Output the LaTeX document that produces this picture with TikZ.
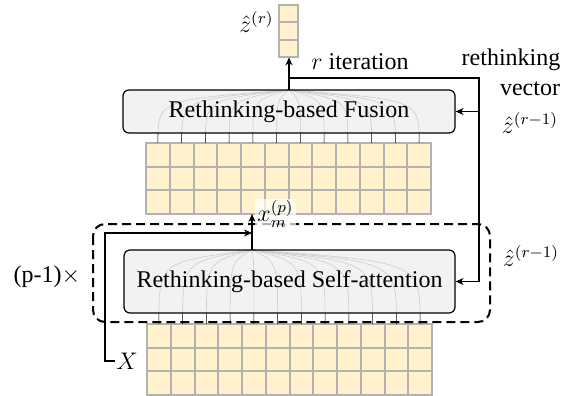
\documentclass[tikz,border=0pt]{standalone}
\usepackage{fontspec}
\setmainfont{Liberation Serif}
\usetikzlibrary{arrows.meta, positioning, calc}
\definecolor{cellfill}{RGB}{255,242,204}
\definecolor{cellline}{RGB}{178,178,178}
\definecolor{boxfill}{RGB}{240,240,240}
\tikzset{
  cell/.style={draw=cellline, fill=cellfill, line width=1pt},
  fan/.style={line width=0.3pt},
  block/.style={draw, line width=0.6pt, rounded corners=3pt, fill=boxfill, fill opacity=0.85, text opacity=1, inner sep=0pt},
  loopbox/.style={draw, line width=1pt, dash pattern=on 4.5pt off 2.5pt, rounded corners=6pt},
  link/.style={line width=0.6pt},
  lbl/.style={inner sep=0.5pt}
}

\begin{document}
\begin{tikzpicture}[x=0.5pt, y=-0.5pt, font=\fontsize{12}{14}\selectfont, >={Stealth[length=4pt,width=3.5pt]}]
\useasboundingbox (0,0) rectangle (587,395);

\foreach \j in {0,1,2}
  \draw[cell] (279,5+17.33*\j) rectangle ++(19,17.33);
\node[minimum width=9.5pt, minimum height=26pt, inner sep=0pt] (zvec) at (288.5,31) {};
\node[lbl, anchor=east] (zlab) at (275,22) {$\hat{z}^{(r)}$};

\foreach \i in {0,...,11}
  \foreach \j in {0,1,2}
    \draw[cell] (146+23.75*\i,143+23.67*\j) rectangle ++(23.75,23.67);

\coordinate (fuse) at (289,90);
\foreach \i in {0,...,11}
  \draw[fan] (157.9+23.75*\i,143) .. controls (157.9+23.75*\i,100) .. (fuse);
\node[block, minimum width=166pt, minimum height=21.5pt] (fusion) at (289,111.5) {Rethinking-based Fusion};

\foreach \i in {0,...,11}
  \foreach \j in {0,1,2}
    \draw[cell] (147+23.75*\i,324+23.67*\j) rectangle ++(23.75,23.67);

\coordinate (att) at (252,250);
\foreach \i in {0,...,11}
  \draw[fan] (158.9+23.75*\i,324) .. controls (158.9+23.75*\i,262) .. (att);
\node[block, minimum width=165.5pt, minimum height=31.5pt] (sa) at (289.5,281.5) {Rethinking-based Self-attention};
\draw[loopbox] (93,224) rectangle (490,322);

\draw[link, ->] (fuse) -- (fuse |- zvec.south);
\coordinate (rtop) at (479,78);
\draw[link, ->] (fuse |- rtop) -- (rtop) -- (rtop |- sa.east) -- (sa.east);
\draw[link, ->] (rtop |- fusion.east) -- (fusion.east);

\coordinate (xin) at (252,214);
\draw[link, ->] (att) -- (xin);
\node[anchor=west, fill=white, fill opacity=0.7, text opacity=1, inner sep=1pt] (xm) at (255,214) {$x_m^{(p)}$};

\node[lbl, anchor=west] (X) at (115,361) {$X$};
\coordinate (lp) at (105,233);
\draw[link, ->] (X.west) -| (lp) -- (att |- lp);

\node[lbl] (iter) at (360,62) {$r$ iteration};
\node[lbl] (rethink) at (511,60) {rethinking};
\node[lbl] (vec) at (530,89) {vector};
\node[lbl] (zr1) at (530,123) {$\hat{z}^{(r-1)}$};
\node[lbl] (zr2) at (531,256) {$\hat{z}^{(r-1)}$};
\node[lbl] (rep) at (47,277) {(p-1)$\times$};
\end{tikzpicture}
\end{document}
